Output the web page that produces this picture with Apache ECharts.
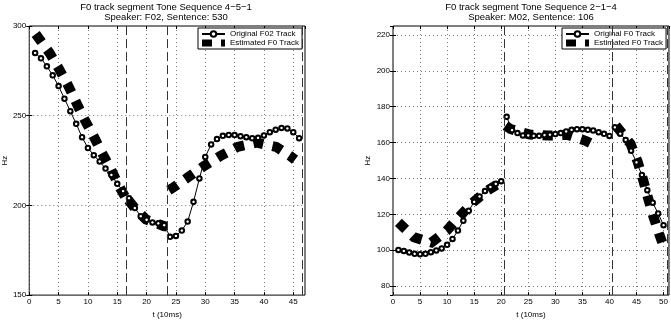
<!DOCTYPE html>
<html>
<head>
<meta charset="utf-8">
<script src="https://cdn.jsdelivr.net/npm/echarts@6/dist/echarts.min.js"></script>
<style>
  html, body { margin: 0; padding: 0; background: #fff; }
  #chart { width: 671px; height: 324px; }
</style>
</head>
<body>
<div id="chart"></div>
<script>
// left panel: tone sequence 4-5-1, speaker F02
const leftOrigTime = [1, 2, 3, 4, 5, 6, 7, 8, 9, 10, 11, 12, 13, 14, 15, 16, 17, 18, 19, 20, 21, 22, 23,
  24, 25, 26, 27, 28, 29, 30, 31, 32, 33, 34, 35, 36, 37, 38, 39, 40, 41, 42, 43, 44, 45, 46]
const leftOrigHz = [285, 282, 277.5, 272.5, 266.5, 259.5, 252.5, 245.5, 238, 232, 228, 224.5, 220.5, 217, 212, 208,
  204, 198.5, 194, 192, 190.5, 190, 189,
  182.5, 183, 186, 191, 202, 215, 227, 234, 237, 238.8, 239.3, 239.2, 238.6, 238, 237.5, 237.7, 239, 240.8,
  242.2, 243.2, 242.9, 240.8, 237.5]
// estimated track, one list per syllable: [t, Hz]
const leftEst1 = [[1.1, 295.5], [3.5, 284.8], [5, 276.5], [6.6, 267], [8, 257.4], [9.4, 248], [10.9, 239],
  [12.4, 229.3], [13.9, 220.3], [15.2, 211.4], [16.3, 205]]
const leftEst2 = [[16.9, 203], [18, 198.5], [19.9, 192.2], [22.9, 188.5], [23.5, 188.2]]
const leftEst3 = [[23.8, 208.5], [24.7, 210.3], [27.2, 216], [29.8, 222], [32.6, 227.6], [35.5, 232.6],
  [38.8, 235], [42.1, 232.6], [44.5, 227.5], [45.3, 225.5]]
const leftBounds = [16.5, 23.6, 46.5]

// right panel: tone sequence 2-1-4, speaker M02
const rightOrigTime1 = [1, 2, 3, 4, 5, 6, 7, 8, 9, 10, 11, 12, 13, 14, 15, 16, 17, 18, 19, 20]
const rightOrigHz1 = [100.2, 99.6, 98.8, 98, 97.8, 98, 98.9, 99.9, 101, 103, 106.3, 111, 116.5, 122, 127, 130,
  133, 135.3, 137, 138.5]
const rightOrigTime2 = [21, 22, 23, 24, 25, 26, 27, 28, 29, 30, 31, 32, 33, 34, 35, 36, 37, 38, 39, 40]
const rightOrigHz2 = [174.4, 167, 165.3, 164, 164, 163.8, 163.8, 164.2, 164.4, 164.8, 165.3, 166.2, 167.1,
  167.5, 167.5, 167.1, 166.8, 165.8, 164.9, 163.7]
const rightOrigTime3 = [41, 42, 43, 44, 45, 46, 47, 48, 49, 50]
const rightOrigHz3 = [168.5, 165, 161.5, 155.5, 149, 142, 133.5, 126.5, 120.5, 114]
const rightEst1 = [[1, 115.5], [3.9, 107.2], [7.1, 104.3], [9.9, 110.8], [12.2, 118.5], [14.5, 126],
  [17.3, 133], [20.3, 138.5]]
const rightEst2 = [[20.8, 169.5], [21.7, 167.6], [25.3, 164.5], [28.7, 163.9], [32.2, 164.4], [35.6, 161],
  [36.6, 159.5]]
const rightEst3 = [[41.2, 169.5], [43.9, 159.3], [45.2, 149.5], [46.2, 139.5], [47.1, 129.5], [48.1, 119],
  [49.2, 109], [49.8, 104]]
const rightBounds = [20.5, 40.5, 50.7]

const FONT = "'Liberation Sans', Arial, Helvetica, sans-serif"
const EST_NAME = 'Estimated F0 Track'
const EST_ICON = 'path://M0,0H10V7H0Z M19,0H23V7H19Z'

const zip = (xs, ys) => xs.map((x, i) => [x, ys[i]])

const chart = echarts.init(document.getElementById('chart'), null, { renderer: 'canvas' })

// shared axis pieces
const tickStyle = { inside: true, length: 3, lineStyle: { color: '#000', width: 1 } }
const gridDots = { show: true, lineStyle: { color: '#777', width: 1, type: [1, 3] } }
const labelStyle = { fontSize: 8, color: '#000', fontFamily: FONT }

function xAxes(gridIndex, max) {
  const base = { type: 'value', gridIndex, min: 0, max, interval: 5 }
  return [
    {
      ...base,
      position: 'bottom',
      name: 't (10ms)',
      nameLocation: 'middle',
      nameGap: 12,
      nameTextStyle: labelStyle,
      axisLine: { show: false },
      axisTick: tickStyle,
      axisLabel: { ...labelStyle, margin: 3, showMaxLabel: false },
      splitLine: gridDots,
    },
    {
      ...base,
      position: 'top',
      axisLine: { show: false },
      axisTick: tickStyle,
      axisLabel: { show: false },
      splitLine: { show: false },
    },
  ]
}

function yAxes(gridIndex, range, nameGap) {
  const base = { type: 'value', gridIndex, ...range }
  return [
    {
      ...base,
      position: 'left',
      name: 'Hz',
      nameLocation: 'middle',
      nameGap,
      nameTextStyle: labelStyle,
      axisLine: { show: false },
      axisTick: tickStyle,
      axisLabel: { ...labelStyle, margin: 3, showMinLabel: range.interval ? true : false, showMaxLabel: range.interval ? true : false },
      splitLine: gridDots,
    },
    {
      ...base,
      position: 'right',
      axisLine: { show: false },
      axisTick: tickStyle,
      axisLabel: { show: false },
      splitLine: { show: false },
    },
  ]
}

function origSeries(name, xi, yi, data) {
  return {
    name,
    type: 'line',
    xAxisIndex: xi,
    yAxisIndex: yi,
    data,
    symbol: 'emptyCircle',
    symbolSize: 4.5,
    itemStyle: { color: '#000', borderWidth: 1 },
    lineStyle: { color: '#000', width: 1 },
    z: 4,
  }
}

function estSeries(xi, yi, data, bounds) {
  const s = {
    name: EST_NAME,
    type: 'line',
    xAxisIndex: xi,
    yAxisIndex: yi,
    data,
    symbol: 'none',
    itemStyle: { color: '#000' },
    lineStyle: { color: '#000', width: 10, type: [10, 9.5], cap: 'butt', join: 'miter' },
    z: 3,
  }
  if (bounds) {
    s.markLine = {
      silent: true,
      symbol: ['none', 'none'],
      label: { show: false },
      lineStyle: { color: '#333', width: 1, type: [9, 4] },
      data: bounds.map(x => ({ xAxis: x })),
    }
  }
  return s
}

function legend(left, origName) {
  return {
    left,
    top: 28,
    orient: 'vertical',
    selectedMode: false,
    data: [{ name: origName }, { name: EST_NAME, icon: EST_ICON }],
    itemWidth: 23,
    itemHeight: 7,
    itemGap: 1,
    padding: [2, 3, 2, 3],
    borderColor: '#000',
    borderWidth: 1,
    borderRadius: 0,
    backgroundColor: '#fff',
    textStyle: { fontSize: 8, color: '#000', fontFamily: FONT },
  }
}

const titleStyle = { fontSize: 9.5, fontWeight: 'normal', color: '#000', fontFamily: FONT, lineHeight: 10 }

const option = {
  animation: false,
  backgroundColor: '#fff',
  textStyle: { fontFamily: FONT },
  title: [
    {
      text: 'F0 track segment Tone Sequence 4\u22125\u22121\nSpeaker: F02, Sentence: 530',
      left: 166, top: 2, textAlign: 'center', padding: 0, textStyle: titleStyle,
    },
    {
      text: 'F0 track segment Tone Sequence 2\u22121\u22124\nSpeaker: M02, Sentence: 106',
      left: 531, top: 2, textAlign: 'center', padding: 0, textStyle: titleStyle,
    },
  ],
  legend: [legend(198, 'Original F02 Track'), legend(562, 'Original F0 Track')],
  grid: [
    { left: 28, top: 26, width: 277, height: 276, show: true, borderColor: '#000', borderWidth: 1, backgroundColor: '#fff' },
    { left: 393, top: 26, width: 276, height: 276, show: true, borderColor: '#000', borderWidth: 1, backgroundColor: '#fff' },
  ],
  xAxis: [...xAxes(0, 47), ...xAxes(1, 51)],
  yAxis: [
    ...yAxes(0, { min: 150, max: 300, interval: 50 }, 19),
    ...yAxes(1, { min: 75, max: 225, splitNumber: 7, minInterval: 20, maxInterval: 20 }, 21),
  ],
  series: [
    estSeries(0, 0, leftEst1, leftBounds),
    estSeries(0, 0, leftEst2),
    estSeries(0, 0, leftEst3),
    origSeries('Original F02 Track', 0, 0, zip(leftOrigTime, leftOrigHz)),
    estSeries(2, 2, rightEst1, rightBounds),
    estSeries(2, 2, rightEst2),
    estSeries(2, 2, rightEst3),
    origSeries('Original F0 Track', 2, 2, zip(rightOrigTime1, rightOrigHz1)),
    origSeries('Original F0 Track', 2, 2, zip(rightOrigTime2, rightOrigHz2)),
    origSeries('Original F0 Track', 2, 2, zip(rightOrigTime3, rightOrigHz3)),
  ],
}

chart.setOption(option)
</script>
</body>
</html>
